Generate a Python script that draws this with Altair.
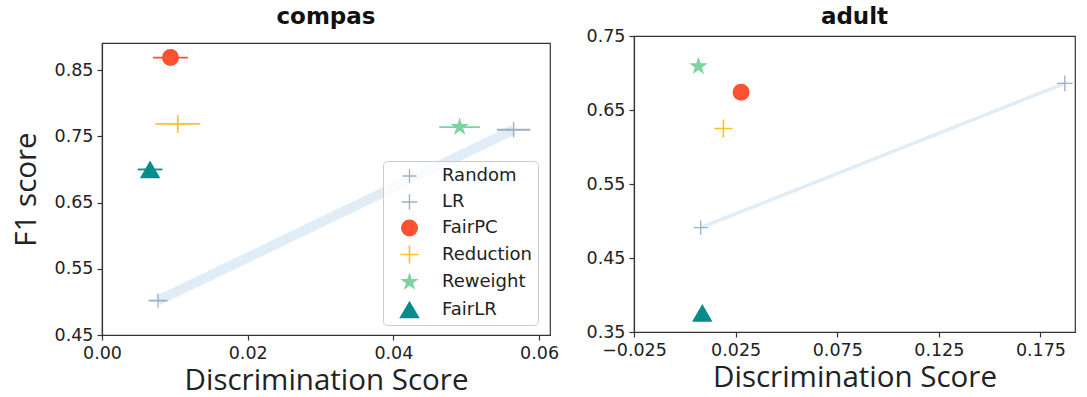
import altair as alt
import pandas as pd

methods = ["Random", "LR", "FairPC", "Reduction", "Reweight", "FairLR"]

# compas panel
compas_x = [0.0077, 0.0565, 0.0094, 0.0104, 0.0491, 0.0066]
compas_y = [0.502, 0.760, 0.869, 0.769, 0.764, 0.700]
compas_xerr = [0.0013, 0.0023, 0.0024, 0.0031, 0.0028, 0.0017]

# adult panel
adult_x = [0.0078, 0.187, 0.0277, 0.019, 0.0067, 0.0086]
adult_y = [0.491, 0.686, 0.674, 0.625, 0.709, 0.376]

compas_xticks = [0.00, 0.02, 0.04, 0.06]
compas_yticks = [0.45, 0.55, 0.65, 0.75, 0.85]
adult_xticks = [-0.025, 0.025, 0.075, 0.125, 0.175]
adult_yticks = [0.35, 0.45, 0.55, 0.65, 0.75]

colors = ["#9fb1c0", "#9fb1c0", "#ff5130", "#ffc125", "#7dd3a0", "#078c8c"]
t = 0.09
PLUS = (f"M-1,-{t}L-{t},-{t}L-{t},-1L{t},-1L{t},-{t}L1,-{t}L1,{t}L{t},{t}"
        f"L{t},1L-{t},1L-{t},{t}L-1,{t}Z")
STAR = ("M0,-1L0.2234,-0.3074L0.951,-0.309L0.3614,0.1174L0.588,0.809L0,0.38"
        "L-0.588,0.809L-0.3614,0.1174L-0.951,-0.309L-0.2234,-0.3074Z")
shapes = [PLUS, PLUS, "circle", PLUS, STAR, "triangle-up"]
sizes = [200, 420, 480, 420, 480, 560]


def spacer():
    return alt.Chart(pd.DataFrame({"a": [0]})).mark_point(
        opacity=0, size=1
    ).encode(
        x=alt.value(0.5), y=alt.value(0.5)
    ).properties(width=1, height=1, view=alt.ViewBackground(stroke="transparent"))


def panel(name, xs, ys, xerr, xdom, xticks, xfmt, ydom, yticks, yfmt,
          line_w, legend, ytitle, title_offset, w, h):
    df = pd.DataFrame({"method": methods, "x": xs, "y": ys})
    xsc = alt.Scale(domain=xdom, nice=False, zero=False)
    ysc = alt.Scale(domain=ydom, nice=False, zero=False)
    xax = alt.Axis(values=xticks, format=xfmt, title="Discrimination Score",
                   titlePadding=5)
    yax = alt.Axis(values=yticks, format=yfmt, title=ytitle, titlePadding=13)
    cscale = alt.Scale(domain=methods, range=colors)
    sscale = alt.Scale(domain=methods, range=shapes)
    zscale = alt.Scale(domain=methods, range=sizes)

    base = alt.Chart(df)
    line = base.transform_filter(
        alt.FieldOneOfPredicate(field="method", oneOf=["Random", "LR"])
    ).mark_line(color="#e0edf6", strokeWidth=line_w, strokeCap="butt").encode(
        x=alt.X("x:Q", scale=xsc, axis=xax),
        y=alt.Y("y:Q", scale=ysc, axis=yax),
        order=alt.Order("x:Q"),
    )
    layers = [line]
    if xerr is not None:
        df2 = pd.DataFrame({"method": methods, "y": ys,
                            "xlo": [a - e for a, e in zip(xs, xerr)],
                            "xhi": [a + e for a, e in zip(xs, xerr)]})
        for m, c in zip(methods, colors):
            r = alt.Chart(df2).transform_filter(
                alt.datum.method == m
            ).mark_rule(strokeWidth=1.8, color=c).encode(
                x=alt.X("xlo:Q", scale=xsc, axis=xax),
                x2="xhi:Q",
                y=alt.Y("y:Q", scale=ysc, axis=yax),
            )
            layers.append(r)
    pts = base.mark_point(filled=True, opacity=1, strokeWidth=0).encode(
        x=alt.X("x:Q", scale=xsc, axis=xax),
        y=alt.Y("y:Q", scale=ysc, axis=yax),
        color=alt.Color("method:N", scale=cscale, legend=legend),
        shape=alt.Shape("method:N", scale=sscale, legend=legend),
        size=alt.Size("method:N", scale=zscale, legend=None),
    )
    layers.append(pts)
    layered = alt.layer(*layers).properties(
        width=w, height=h,
        title=alt.TitleParams(name, font="DejaVu Sans", fontSize=23,
                              fontWeight="bold", color="#111",
                              offset=title_offset),
    )
    return alt.vconcat(spacer(), layered, spacing=0).resolve_scale(
        color="independent", shape="independent", size="independent",
        x="independent", y="independent")


leg = alt.Legend(title=None, orient="none", legendX=281, legendY=118,
                 labelFont="DejaVu Sans", labelFontSize=18, labelColor="#222",
                 symbolSize=400, rowPadding=8, padding=6,
                 strokeColor="#cccccc", fillColor="rgba(255,255,255,0.8)",
                 cornerRadius=4, labelOffset=22, symbolOffset=10,
                 symbolStrokeWidth=0)

left = panel("compas", compas_x, compas_y, compas_xerr, [0.0, 0.0615],
             compas_xticks, ".2f", [0.45, 0.891], compas_yticks, ".2f",
             10, leg, "F1 score", 13.7, 448, 292)
right = panel("adult", adult_x, adult_y, None, [-0.025, 0.192],
              adult_xticks, ".3f", [0.35, 0.75], adult_yticks, ".2f",
              3.5, None, None, -2, 441, 296)

chart = alt.hconcat(left, right, spacing=25).resolve_scale(
    color="independent", shape="independent", size="independent",
    x="independent", y="independent",
).properties(
    padding={"left": 10, "top": 2, "right": 5, "bottom": 0}
).configure_view(
    stroke="#333333", strokeWidth=1.2
).configure_axis(
    labelFont="DejaVu Sans", labelFontSize=17.5, labelColor="#222",
    tickColor="#333", domainColor="#333", tickSize=5, tickWidth=1.2,
    domainWidth=1.2, grid=False, labelPadding=4, labelFlush=False,
    titleFont="Open Sans", titleFontSize=29.5, titleFontWeight="normal",
    titleColor="#222",
)

chart.save("out.html", embed_options={"renderer": "svg", "actions": False})
